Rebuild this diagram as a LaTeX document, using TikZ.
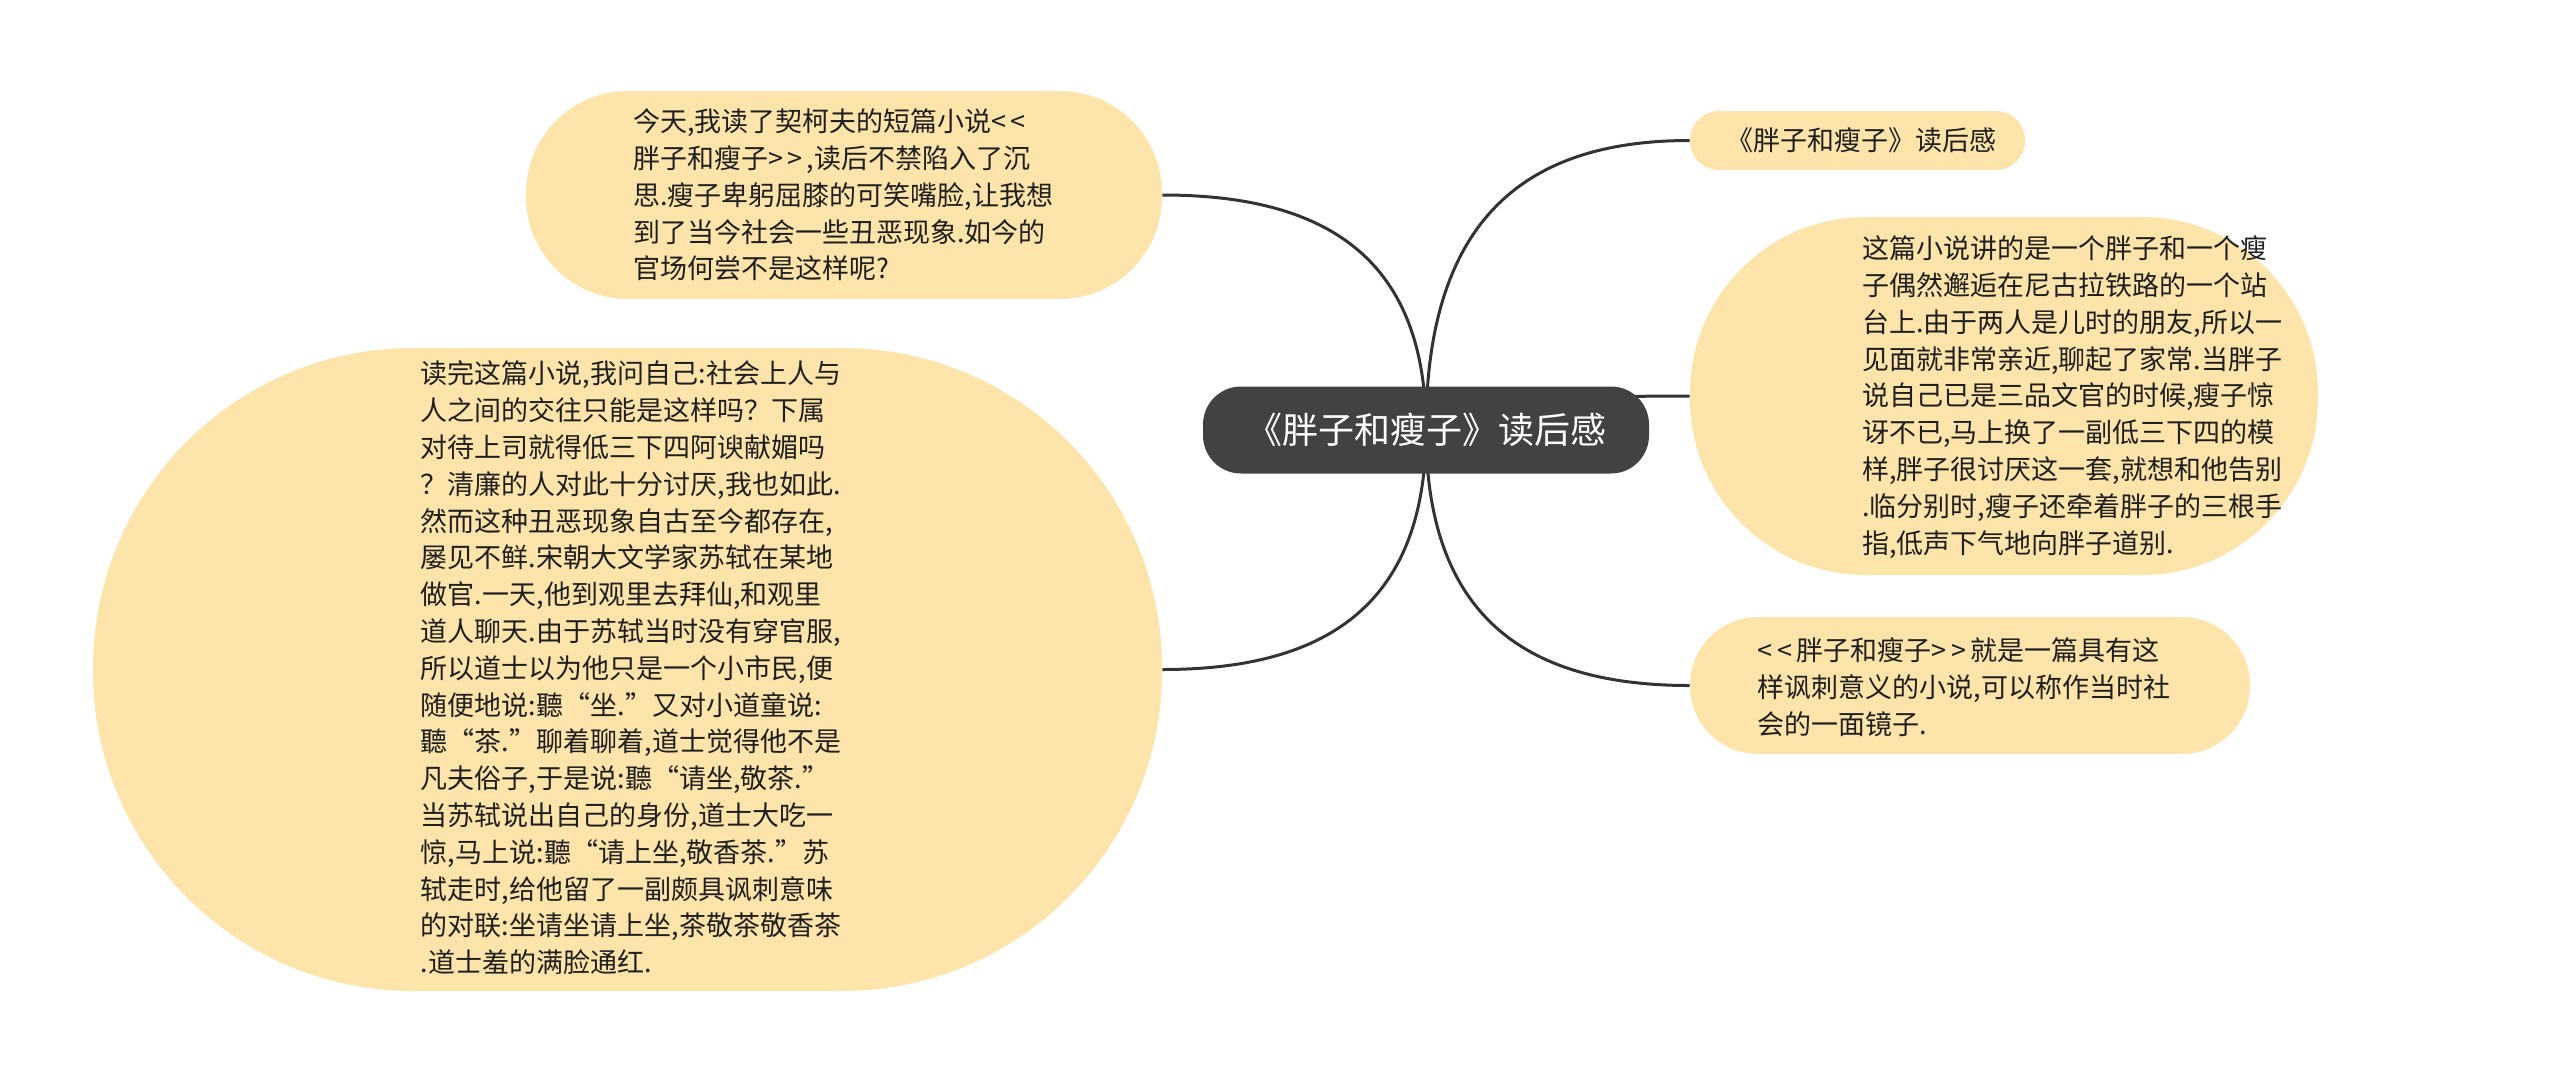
\documentclass[tikz,border=0pt]{standalone}
\usepackage{fontspec}
\setmainfont{Noto Sans CJK SC}
\usetikzlibrary{calc,backgrounds}
\definecolor{bubblefill}{HTML}{FDE4AA}
\definecolor{rootfill}{HTML}{424242}
\definecolor{linkcol}{HTML}{333333}
\newcommand{\opensign}{\makebox[0.72em][l]{<}}
\newcommand{\closesign}{\makebox[0.72em][l]{>}}
\tikzset{
  bubble/.style={fill=bubblefill, inner sep=0pt},
  para/.style={align=left, inner sep=0pt, text=black!88,
    font=\fontsize{13.5}{18.4}\selectfont},
  link/.style={draw=linkcol, line width=1.5pt}
}
\begin{document}
\begin{tikzpicture}[x=0.5pt,y=-0.5pt]
  \useasboundingbox (0,0) rectangle (2560,1083);

  \node[fill=rootfill, rounded corners=19pt, minimum width=223pt, minimum height=43.5pt,
    text=white, font=\fontsize{18}{22}\selectfont] (root) at (1426,430) {《胖子和瘦子》读后感};

  \node[bubble, rounded corners=51pt, minimum width=318pt, minimum height=104pt] (today) at (844,195) {};
  \node[para] (todaytext) at (843,195) {今天,我读了契柯夫的短篇小说\opensign\opensign\\
    胖子和瘦子\closesign\closesign,读后不禁陷入了沉\\
    思.瘦子卑躬屈膝的可笑嘴脸,让我想\\
    到了当今社会一些丑恶现象.如今的\\
    官场何尝不是这样呢?};

  \node[bubble, rounded corners=160pt, minimum width=534.5pt, minimum height=321.5pt] (asked) at (627.5,669.5) {};
  \node[para] (askedtext) at (631,668) {读完这篇小说,我问自己:社会上人与\\
    人之间的交往只能是这样吗？下属\\
    对待上司就得低三下四阿谀献媚吗\\
    ？清廉的人对此十分讨厌,我也如此.\\
    然而这种丑恶现象自古至今都存在,\\
    屡见不鲜.宋朝大文学家苏轼在某地\\
    做官.一天,他到观里去拜仙,和观里\\
    道人聊天.由于苏轼当时没有穿官服,\\
    所以道士以为他只是一个小市民,便\\
    随便地说:聽“坐.”又对小道童说:\\
    聽“茶.”聊着聊着,道士觉得他不是\\
    凡夫俗子,于是说:聽“请坐,敬茶.”\\
    当苏轼说出自己的身份,道士大吃一\\
    惊,马上说:聽“请上坐,敬香茶.”苏\\
    轼走时,给他留了一副颇具讽刺意味\\
    的对联:坐请坐请上坐,茶敬茶敬香茶\\
    .道士羞的满脸通红.};

  \node[bubble, rounded corners=14.5pt, minimum width=167.5pt, minimum height=29.5pt] (title) at (1857.5,140.5) {};
  \node[para] (titletext) at (1861,140.5) {《胖子和瘦子》读后感};

  \node[bubble, rounded corners=88pt, minimum width=314pt, minimum height=179pt] (story) at (2004,396) {};
  \node[para] (storytext) at (2072,397) {这篇小说讲的是一个胖子和一个瘦\\
    子偶然邂逅在尼古拉铁路的一个站\\
    台上.由于两人是儿时的朋友,所以一\\
    见面就非常亲近,聊起了家常.当胖子\\
    说自己已是三品文官的时候,瘦子惊\\
    讶不已,马上换了一副低三下四的模\\
    样,胖子很讨厌这一套,就想和他告别\\
    .临分别时,瘦子还牵着胖子的三根手\\
    指,低声下气地向胖子道别.};

  \node[bubble, rounded corners=34pt, minimum width=280pt, minimum height=68.5pt] (mirror) at (1970,685.5) {};
  \node[para] (mirrortext) at (1964,687) {\opensign\opensign 胖子和瘦子\closesign\closesign 就是一篇具有这\\
    样讽刺意义的小说,可以称作当时社\\
    会的一面镜子.};

  \begin{scope}[on background layer]
    \draw[link] (root.center) .. controls ($(root.center)!0.75!(root.center |- today.east)$)
      and ($(today.east)!0.6!(root.center |- today.east)$) .. (today.east);
    \draw[link] (root.center) .. controls ($(root.center)!0.75!(root.center |- asked.east)$)
      and ($(asked.east)!0.6!(root.center |- asked.east)$) .. (asked.east);
    \draw[link] (root.center) .. controls ($(root.center)!0.75!(root.center |- title.west)$)
      and ($(title.west)!0.6!(root.center |- title.west)$) .. (title.west);
    \draw[link] (root.center) .. controls ($(root.center)!0.75!(root.center |- story.west)$)
      and ($(story.west)!0.6!(root.center |- story.west)$) .. (story.west);
    \draw[link] (root.center) .. controls ($(root.center)!0.75!(root.center |- mirror.west)$)
      and ($(mirror.west)!0.6!(root.center |- mirror.west)$) .. (mirror.west);
  \end{scope}
\end{tikzpicture}
\end{document}
